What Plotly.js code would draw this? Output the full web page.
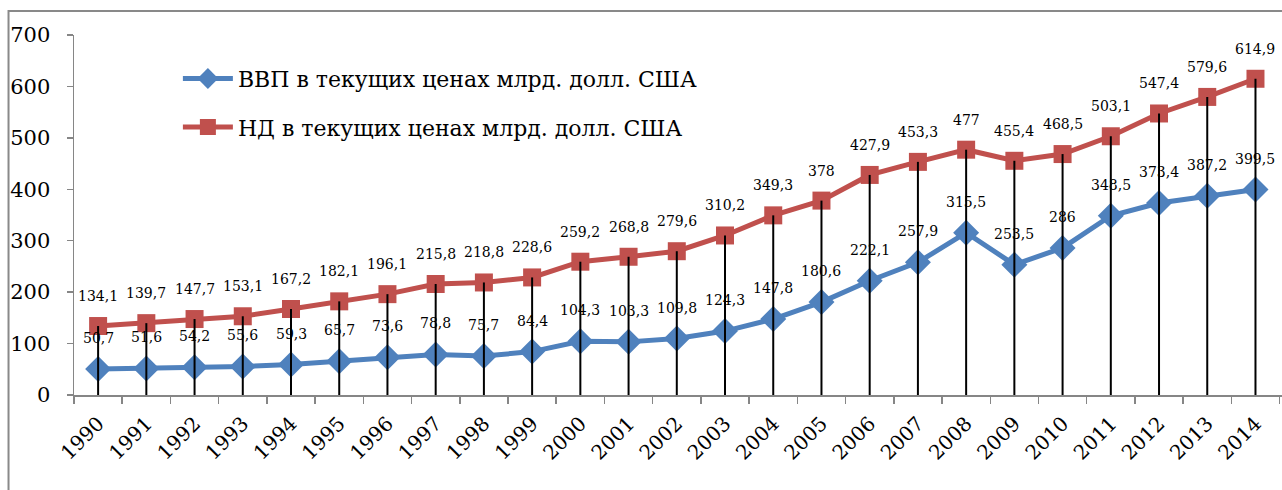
<!DOCTYPE html>
<html>
<head>
<meta charset="utf-8">
<script src="https://cdn.plot.ly/plotly-3.0.1.min.js"></script>
<style>html,body{margin:0;padding:0;background:#fff;}#chart{width:1282px;height:490px;}</style>
</head>
<body>
<div id="chart"></div>
<script>
const years = ['1990','1991','1992','1993','1994','1995','1996','1997','1998','1999','2000','2001','2002','2003','2004','2005','2006','2007','2008','2009','2010','2011','2012','2013','2014'];
const gdp = [50.7,51.6,54.2,55.6,59.3,65.7,73.6,78.8,75.7,84.4,104.3,103.3,109.8,124.3,147.8,180.6,222.1,257.9,315.5,253.5,286,348.5,373.4,387.2,399.5];
const ni = [134.1,139.7,147.7,153.1,167.2,182.1,196.1,215.8,218.8,228.6,259.2,268.8,279.6,310.2,349.3,378,427.9,453.3,477,455.4,468.5,503.1,547.4,579.6,614.9];
const gdpName = 'ВВП в текущих ценах млрд. долл. США';
const niName = 'НД в текущих ценах млрд. долл. США';
const yTicks = [0,100,200,300,400,500,600,700];

const FONT = "DejaVu Serif, Liberation Serif, serif";
const fmt = v => String(v).replace('.', ',');

const idx = years.map((y, i) => i);
const bounds = idx.concat([idx.length]).map(i => i - 0.5);
const dropX = [], dropY = [];
idx.forEach(i => { dropX.push(i, i, null); dropY.push(0, ni[i], null); });

const traces = [
  {x: idx, y: gdp, name: gdpName, type: 'scatter', mode: 'lines+markers',
   line: {color: '#4F81BD', width: 5}, marker: {symbol: 'diamond', size: 20, color: '#4F81BD'},
   legendgroup: 'a', hoverinfo: 'skip'},
  {x: idx, y: ni, name: niName, type: 'scatter', mode: 'lines+markers',
   line: {color: '#C0504D', width: 5}, marker: {symbol: 'square', size: 18, color: '#C0504D'},
   legendgroup: 'b', hoverinfo: 'skip'},
  {x: dropX, y: dropY, xaxis: 'x2', type: 'scatter', mode: 'lines', line: {color: '#000', width: 2},
   showlegend: false, hoverinfo: 'skip', connectgaps: false}
];

const annotations = [];
idx.forEach(i => {
  annotations.push({x: i, y: ni[i], xref: 'x', yref: 'y', text: fmt(ni[i]), showarrow: false, yshift: 30,
    font: {family: FONT, size: 14, color: '#000'}});
  annotations.push({x: i, y: gdp[i], xref: 'x', yref: 'y', text: fmt(gdp[i]), showarrow: false, yshift: 31,
    font: {family: FONT, size: 14, color: '#000'}});
});

const layout = {
  width: 1282, height: 490,
  margin: {l: 74, r: 0, t: 35, b: 95},
  paper_bgcolor: '#fff', plot_bgcolor: 'rgba(0,0,0,0)',
  font: {family: FONT, color: '#000'},
  showlegend: true,
  legend: {x: 0.086, y: 0.937, xanchor: 'left', yanchor: 'top', bgcolor: 'rgba(0,0,0,0)',
    font: {family: FONT, size: 22, color: '#000'}, tracegroupgap: 17, traceorder: 'grouped', itemwidth: 50},
  xaxis: {range: [-0.5, 24.55], tickvals: bounds, ticktext: bounds.map(() => ''), showgrid: false, zeroline: false,
    showline: true, linecolor: '#868686', linewidth: 1.5,
    ticks: 'outside', ticklen: 7, tickcolor: '#868686', tickwidth: 1.5},
  xaxis2: {overlaying: 'x', anchor: 'y', side: 'bottom', range: [-0.5, 24.55], tickvals: idx, ticktext: years,
    showgrid: false, zeroline: false, showline: false, ticks: '',
    tickangle: -45, tickfont: {family: FONT, size: 20, color: '#000'}, ticklabelstandoff: 12},
  yaxis: {range: [0, 700], tickvals: yTicks, showgrid: false, zeroline: false,
    showline: true, linecolor: '#868686', linewidth: 1.5,
    ticks: 'outside', ticklen: 6, tickcolor: '#868686', tickwidth: 1.5,
    tickfont: {family: FONT, size: 21, color: '#000'}, ticklabelstandoff: 12},
  annotations: annotations,
  shapes: [{type: 'rect', xref: 'paper', yref: 'paper', x0: -0.0542, x1: 1.2, y0: -1, y1: 1.0667,
    line: {color: '#898989', width: 2}, fillcolor: 'rgba(0,0,0,0)', layer: 'below'}]
};

Plotly.newPlot('chart', traces, layout, {displayModeBar: false, staticPlot: true});
</script>
</body>
</html>
